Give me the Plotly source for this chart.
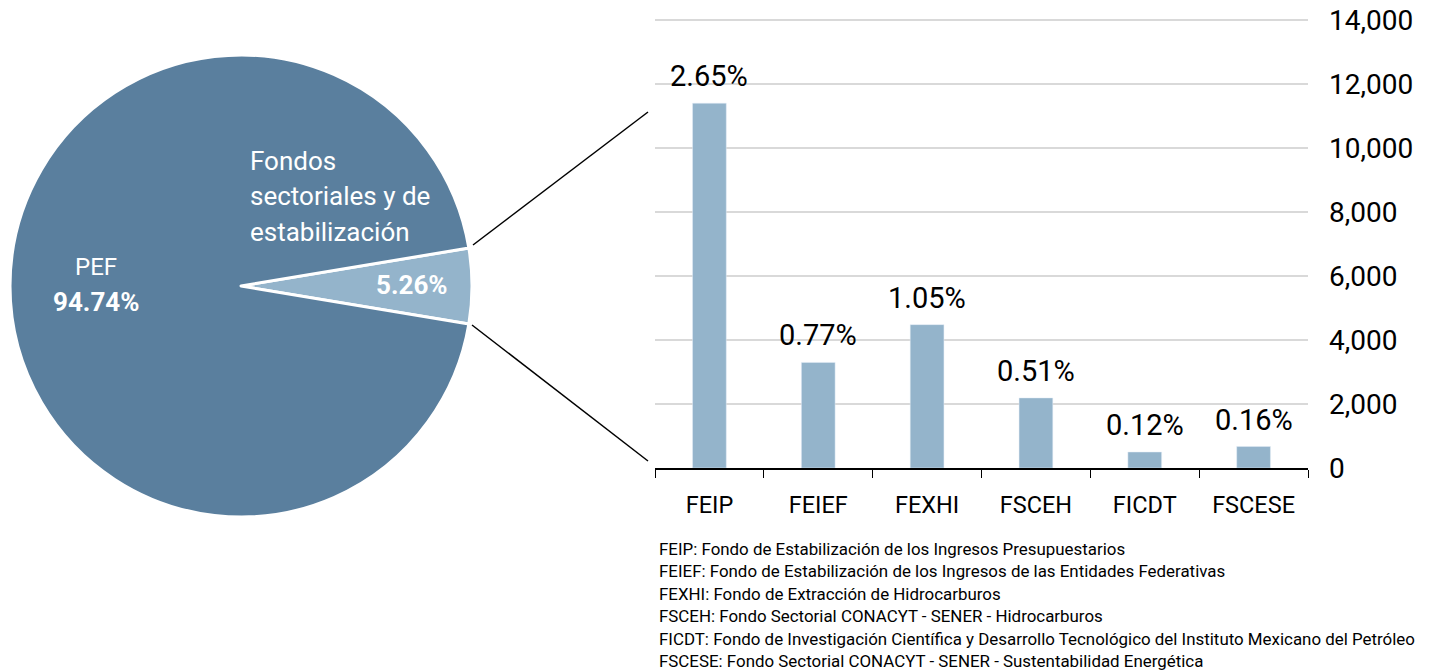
import plotly.graph_objects as go

# datos
pie_labels = ["Fondos sectoriales y de estabilización", "PEF"]
pie_values = [5.26, 94.74]

fondos = ["FEIP", "FEIEF", "FEXHI", "FSCEH", "FICDT", "FSCESE"]
montos = [11400, 3300, 4480, 2190, 500, 670]
pct = [2.65, 0.77, 1.05, 0.51, 0.12, 0.16]

y_ticks = [0, 2000, 4000, 6000, 8000, 10000, 12000, 14000]

notas = [
    "FEIP: Fondo de Estabilización de los Ingresos Presupuestarios",
    "FEIEF: Fondo de Estabilización de los Ingresos de las Entidades Federativas",
    "FEXHI: Fondo de Extracción de Hidrocarburos",
    "FSCEH: Fondo Sectorial CONACYT - SENER - Hidrocarburos",
    "FICDT: Fondo de Investigación Científica y Desarrollo Tecnológico del Instituto Mexicano del Petróleo",
    "FSCESE: Fondo Sectorial CONACYT - SENER - Sustentabilidad Energética",
]

W, H = 1439, 670
FONT = "Roboto, Arial, sans-serif"
dark = "#5A7F9E"
light = "#94B4CB"
OFF = 8  # margen del body en la página


def px(x):
    return (x - OFF) / W


def py(y):
    return 1 - (y - OFF) / H


fig = go.Figure()

rot = 90 - 360 * pie_values[0] / sum(pie_values) / 2
fig.add_trace(go.Pie(
    labels=pie_labels, values=pie_values, sort=False, direction="clockwise",
    rotation=rot, textinfo="none", hoverinfo="label+percent",
    marker=dict(colors=[light, dark], line=dict(color="white", width=3)),
    domain=dict(x=[px(10), px(472)], y=[py(517), py(55)]),
    showlegend=False,
))

fig.add_trace(go.Bar(
    x=fondos, y=montos, marker_color=light, width=0.31,
    showlegend=False, xaxis="x", yaxis="y",
))

ann = []
for f, m, p in zip(fondos, montos, pct):
    ann.append(dict(x=f, y=m, xref="x", yref="y", text=f"{p:.2f}%", showarrow=False,
                    xanchor="center", yanchor="bottom", yshift=8,
                    font=dict(size=29, color="#000000", family=FONT)))

# textos del pastel
pw = dict(xref="paper", yref="paper", showarrow=False, yanchor="middle")
ann += [
    dict(x=px(96), y=py(267), text=pie_labels[1], xanchor="center",
         font=dict(size=24, color="white", family=FONT), **pw),
    dict(x=px(96), y=py(302), text=f"<b>{pie_values[1]:.2f}%</b>", xanchor="center",
         font=dict(size=26, color="white", family=FONT), **pw),
    dict(x=px(412), y=py(285), text=f"<b>{pie_values[0]:.2f}%</b>", xanchor="center",
         font=dict(size=26, color="white", family=FONT), **pw),
]
for i, linea in enumerate(["Fondos", "sectoriales y de", "estabilización"]):
    ann.append(dict(x=px(248), y=py(161 + i * 35.5), text=linea, xanchor="left",
                    font=dict(size=26, color="white", family=FONT), **pw))

for i, n in enumerate(notas):
    ann.append(dict(x=px(657), y=py(549 + i * 22.4), text=n, xanchor="left",
                    font=dict(size=16.9, color="#000000", family=FONT), **pw))

shapes = [
    dict(type="line", xref="paper", yref="paper", x0=px(473), y0=py(245), x1=px(648), y1=py(112),
         line=dict(color="black", width=1.5)),
    dict(type="line", xref="paper", yref="paper", x0=px(472), y0=py(325), x1=px(648), y1=py(461),
         line=dict(color="black", width=1.5)),
]

fig.update_layout(
    width=W, height=H, margin=dict(l=0, r=0, t=0, b=0),
    paper_bgcolor="white", plot_bgcolor="white",
    font=dict(family=FONT, color="#000000"),
    bargap=0.69,
    xaxis=dict(domain=[px(655), px(1308)], showline=True, linecolor="black", linewidth=1.5,
               ticks="outside", tickson="boundaries", ticklen=8, tickcolor="black",
               tickfont=dict(size=23.5), showgrid=False, automargin=False,
               ticklabelstandoff=15),
    yaxis=dict(domain=[py(468), py(18.4)], range=[0, 14050], side="right", tickvals=y_ticks,
               tickformat=",", showgrid=True, gridcolor="#D9D9D9", gridwidth=1.5,
               zeroline=False, showline=False, ticks="", tickfont=dict(size=28),
               ticklabelstandoff=20, automargin=False, ticklabeloverflow="allow"),
    annotations=ann, shapes=shapes,
)

fig.write_html("out.html")
